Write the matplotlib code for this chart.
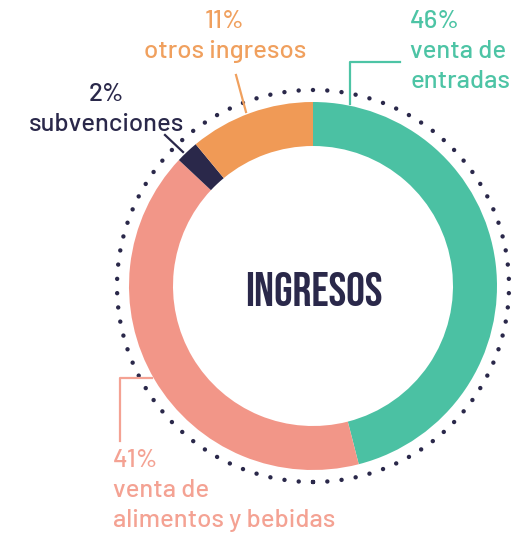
"""
Ingresos donut chart
"""
import numpy as np
import matplotlib
matplotlib.use("Agg")
import matplotlib.pyplot as plt
from matplotlib.patches import Circle

# Data
labels = ["venta de\nentradas", "venta de\nalimentos y bebidas", "subvenciones", "otros ingresos"]
shares = [46, 41, 2, 11]
colors = ["#4BC1A3", "#F29688", "#2A284A", "#F09A56"]
text_colors = ["#4DC4A5", "#F4A293", "#2A284A", "#F0A05E"]
center_title = "INGRESOS"

W, H = 529, 540
cx, cy = 313, H - 286
R_out, ring_w = 184, 44
R_dots = 196
n_dots = 86

plt.rcParams['font.family'] = ['Barlow', 'DejaVu Sans']

fig = plt.figure(figsize=(W / 100, H / 100), dpi=100)
ax = fig.add_axes([0, 0, 1, 1])

ax.pie(shares, colors=colors, startangle=90, counterclock=False,
       radius=R_out, center=(cx, cy),
       wedgeprops=dict(width=ring_w, linewidth=0))
ax.set_xlim(0, W)
ax.set_ylim(0, H)
ax.set_aspect("equal")
ax.axis("off")

# dotted outer ring (1 data unit == 1 px; gap chosen so dots close evenly)
dot_lw = 3.2
period_pt = 2 * np.pi * R_dots * 72 / 100 / n_dots
ring = Circle((cx, cy), R_dots, fill=False, edgecolor="#2A284A",
              linewidth=dot_lw, linestyle=(0, (0.01, period_pt / dot_lw - 0.01)))
ring.set_capstyle("round")
ax.add_patch(ring)

# center title
ax.text(cx + 1, H - 289, center_title, ha="center", va="center", fontsize=34,
        color="#2A284A", family=["Bebas Neue", "DejaVu Sans"])

fs = 18.5
# labels: (x, y_top, alignment)
label_pos = [(410, 10, "left"), (113, 449, "left"), (106, 83, "center"), (225, 10, "center")]
for lab, val, tc, (x, y, ha) in zip(labels, shares, text_colors, label_pos):
    ax.text(x, H - y, f"{val}%\n{lab}", ha=ha, va="top", fontsize=fs,
            fontweight="medium", color=tc, linespacing=1.38, multialignment=ha)

# leader lines
lw = 1.6
ax.plot([400, 350, 350], [H - 62, H - 62, H - 104], color=text_colors[0], lw=lw)
ax.plot([152, 120, 120], [H - 378, H - 378, H - 441], color=text_colors[1], lw=lw)
ax.plot([165, 183], [H - 135, H - 152], color=text_colors[2], lw=lw)
ax.plot([236, 246], [H - 75, H - 112], color=text_colors[3], lw=lw)

fig.savefig("out.png", dpi=100)
